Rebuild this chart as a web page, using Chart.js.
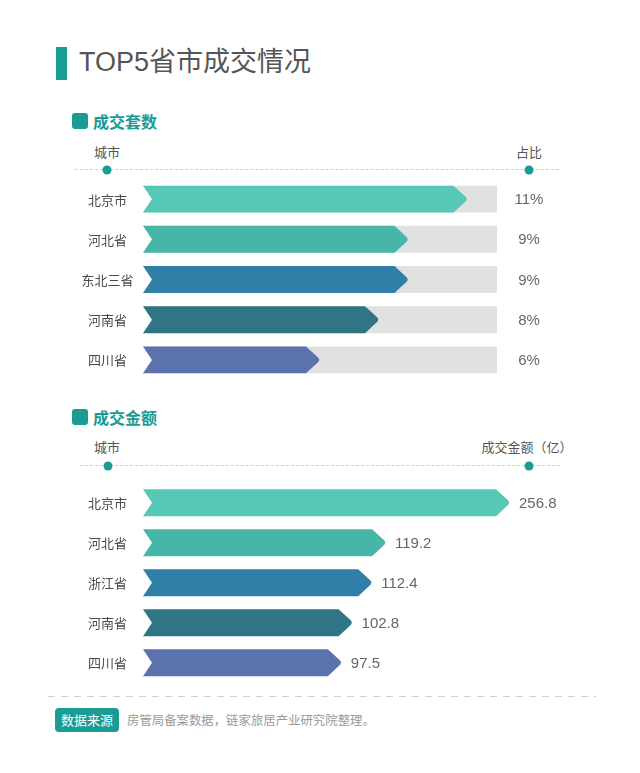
<!DOCTYPE html>
<html>
<head>
<meta charset="utf-8">
<script src="https://cdn.jsdelivr.net/npm/chart.js@4/dist/chart.umd.min.js"></script>
<style>
  html, body { margin:0; padding:0; background:#fff; }
  body { width:640px; height:773px; position:relative; overflow:hidden;
         font-family:"Liberation Sans","Noto Sans CJK SC",sans-serif; }
  .abs { position:absolute; }
  .titlebar { left:56px; top:47px; width:11px; height:33px; background:#1a9b94; }
  .title { left:79px; top:44px; font-size:27px; line-height:36px; color:#555; white-space:nowrap; }
  .secicon { width:16px; height:16px; border-radius:3px; background:#1a9b94; }
  .sec { font-size:16px; line-height:20px; color:#1a9b94; font-weight:bold; font-family:"Noto Sans CJK SC",sans-serif; white-space:nowrap; }
  .hdr { font-size:13px; line-height:16px; color:#555; font-family:"Noto Sans CJK SC",sans-serif; white-space:nowrap; transform:translateX(-50%); }
  .dash { height:0; border-top:1px dashed #cfcfcf; }
  .dot { width:9px; height:9px; border-radius:50%; background:#1a9b94; transform:translate(-50%,-50%); }
  .badge { left:55px; top:708px; width:64px; height:24px; border-radius:4px; background:#1a9b94; color:#fff;
           font-size:13px; line-height:24px; text-align:center; font-family:"Noto Sans CJK SC",sans-serif; }
  .src { left:127px; top:712px; font-size:12.4px; line-height:16px; color:#999; font-family:"Noto Sans CJK SC",sans-serif; white-space:nowrap; }
  canvas { position:absolute; left:0; }
</style>
</head>
<body>
<div class="abs titlebar"></div>
<div class="abs title">TOP5省市成交情况</div>

<div class="abs secicon" style="left:72px;top:113px;"></div>
<div class="abs sec" style="left:93px;top:111px;">成交套数</div>
<div class="abs hdr" style="left:107px;top:144px;">城市</div>
<div class="abs hdr" style="left:529px;top:144px;">占比</div>
<div class="abs dash" style="left:75px;top:169px;width:484px;"></div>
<div class="abs dot" style="left:107px;top:169.5px;"></div>
<div class="abs dot" style="left:529px;top:169.5px;"></div>

<canvas id="c1" width="640" height="220" style="top:170px;"></canvas>

<div class="abs secicon" style="left:72px;top:409px;"></div>
<div class="abs sec" style="left:93px;top:407px;">成交金额</div>
<div class="abs hdr" style="left:107px;top:439px;">城市</div>
<div class="abs hdr" style="left:527px;top:439px;">成交金额（亿）</div>
<div class="abs dash" style="left:80px;top:465px;width:480px;"></div>
<div class="abs dot" style="left:108px;top:465.5px;"></div>
<div class="abs dot" style="left:529px;top:465.5px;"></div>

<canvas id="c2" width="640" height="220" style="top:475px;"></canvas>

<div class="abs" style="left:48px;top:696px;width:548px;height:1px;background:repeating-linear-gradient(90deg,#d0d0d0 0 7px,transparent 7px 13px);"></div>
<div class="abs badge">数据来源</div>
<div class="abs src">房管局备案数据，链家旅居产业研究院整理。</div>

<script>
// ---- data ----
const cities1 = ['北京市', '河北省', '东北三省', '河南省', '四川省'];
const share1 = [11, 9, 9, 8, 6];          // 占比 (%)
const shareTrack = [12, 12, 12, 12, 12];  // grey background track (%)
const cities2 = ['北京市', '河北省', '浙江省', '河南省', '四川省'];
const amount2 = [256.8, 119.2, 112.4, 102.8, 97.5]; // 成交金额 (亿)
const barColors = ['#58c8b6', '#47b6a8', '#2f7fa8', '#2f7585', '#5c72ae'];

const LABEL_X = 107.5;
const NOTCH = 9;

function arrowPath(ctx, left, right, y, h) {
  const top = y - h / 2, bottom = y + h / 2;
  const tip = 14;
  ctx.beginPath();
  ctx.moveTo(left, top);
  ctx.lineTo(right - tip, top);
  ctx.lineTo(right - 2.2, y - 2.6);
  ctx.quadraticCurveTo(right + 0.6, y, right - 2.2, y + 2.6);
  ctx.lineTo(right - tip, bottom);
  ctx.lineTo(left, bottom);
  ctx.lineTo(left + NOTCH, y);
  ctx.closePath();
}

function trackPath(ctx, left, right, y, h) {
  const top = y - h / 2, bottom = y + h / 2;
  ctx.beginPath();
  ctx.moveTo(left, top);
  ctx.lineTo(right, top);
  ctx.lineTo(right, bottom);
  ctx.lineTo(left, bottom);
  ctx.lineTo(left + NOTCH, y);
  ctx.closePath();
}

function makePlugin(kind) {
  return {
    id: 'arrows' + kind,
    beforeDatasetDraw(chart, args) {
      const ctx = chart.ctx;
      const area = chart.chartArea;
      const ds = chart.data.datasets[args.index];
      ctx.save();
      args.meta.data.forEach((el, i) => {
        const p = el.getProps(['x', 'y', 'base', 'height'], true);
        const right = Math.min(p.x, area.right);
        const left = Math.max(p.base, area.left);
        if (args.index === 0) arrowPath(ctx, left, right, p.y, p.height);
        else trackPath(ctx, left, right, p.y, p.height);
        ctx.fillStyle = Array.isArray(ds.backgroundColor) ? ds.backgroundColor[i] : ds.backgroundColor;
        ctx.fill();
      });
      ctx.restore();
      return false;
    },
    afterDraw(chart) {
      const ctx = chart.ctx;
      const area = chart.chartArea;
      const meta = chart.getDatasetMeta(0);
      const ds = chart.data.datasets[0];
      ctx.save();
      ctx.textBaseline = 'middle';
      // category labels
      ctx.font = '13px "Noto Sans CJK SC", sans-serif';
      ctx.fillStyle = '#4a4a4a';
      ctx.textAlign = 'center';
      chart.data.labels.forEach((lab, i) => {
        ctx.fillText(lab, LABEL_X, chart.scales.y.getPixelForValue(i) + 0.5);
      });
      // value labels
      ctx.font = '15px "Liberation Sans", "Noto Sans CJK SC", sans-serif';
      ctx.fillStyle = '#666';
      meta.data.forEach((el, i) => {
        const v = ds.data[i];
        if (kind === 1) {
          ctx.textAlign = 'center';
          ctx.fillText(v + '%', 529, el.y + 1);
        } else {
          ctx.textAlign = 'left';
          const right = Math.min(el.x, area.right);
          ctx.fillText(v.toFixed(1), right + 9, el.y + 1);
        }
      });
      ctx.restore();
    }
  };
}

function baseOptions(max, padding) {
  return {
    indexAxis: 'y',
    responsive: false,
    animation: false,
    events: [],
    layout: { padding },
    plugins: { legend: { display: false }, tooltip: { enabled: false } },
    scales: {
      x: { display: false, min: 0, max, grid: { display: false } },
      y: { display: false, grid: { display: false } }
    }
  };
}

new Chart(document.getElementById('c1'), {
  type: 'bar',
  data: {
    labels: cities1,
    datasets: [
      { data: share1, backgroundColor: barColors, grouped: false, order: 0,
        categoryPercentage: 1, barPercentage: 0.67 },
      { data: shareTrack, backgroundColor: '#e1e1e1', grouped: false, order: 1,
        categoryPercentage: 1, barPercentage: 0.67 }
    ]
  },
  options: baseOptions(12, { left: 143, right: 143, top: 9, bottom: 10 }),
  plugins: [makePlugin(1)]
});

new Chart(document.getElementById('c2'), {
  type: 'bar',
  data: {
    labels: cities2,
    datasets: [
      { data: amount2, backgroundColor: barColors, grouped: false,
        categoryPercentage: 1, barPercentage: 0.675 }
    ]
  },
  options: baseOptions(180, { left: 143, right: 130, top: 7.7, bottom: 12.3 }),
  plugins: [makePlugin(2)]
});
</script>
</body>
</html>
